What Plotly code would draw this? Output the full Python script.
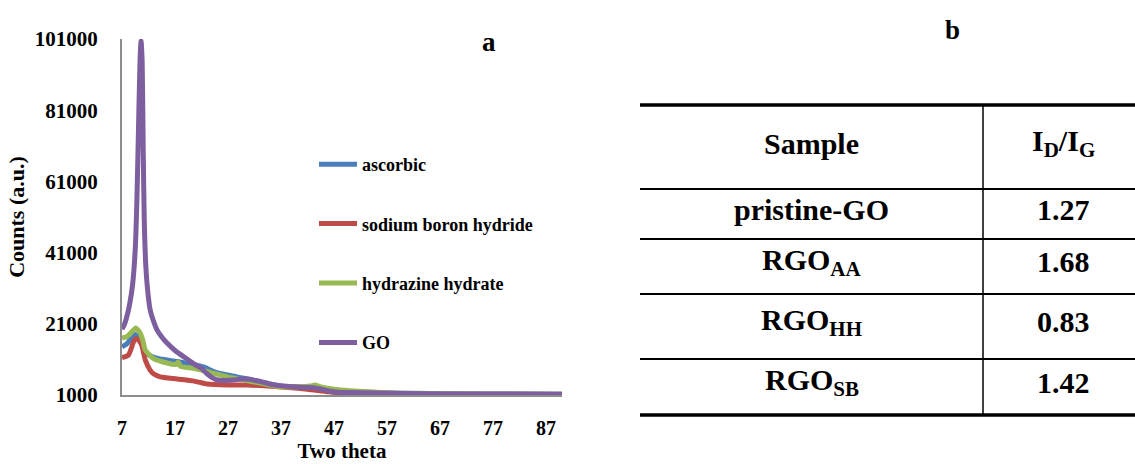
import plotly.graph_objects as go

W, H = 1135, 464

# ---------------- data ----------------
go_x = [7, 7.5, 8, 8.5, 9, 9.5, 9.8, 10.1, 10.4, 10.6, 10.8, 11.0, 11.2, 11.5, 11.8, 12.3, 13, 13.6,
        14.5, 15.5, 17, 18.7, 20, 21, 22, 23, 24, 25, 26.5, 28, 29, 30, 31, 32, 33.3, 34.5, 35.8,
        37.5, 39.6, 42, 43.4, 45, 46.6, 48, 50, 55, 60, 70, 80, 90]
go_y = [19500, 21000, 23500, 27000, 32000, 42000, 55000, 75000, 95000, 100500, 95000, 70000, 50000,
        37000, 31000, 25000, 21500, 19300, 17300, 15600, 13500, 11700, 10300, 9300, 8500, 7000, 5900,
        5200, 5100, 5200, 5400, 5500, 5400, 5100, 4700, 4200, 3800, 3500, 3300, 3100, 3000, 2500,
        2000, 1800, 1700, 1550, 1400, 1300, 1250, 1200]

asc_x = [7, 8, 9, 9.5, 10, 10.6, 11.2, 11.7, 12.5, 14.2, 17.4, 20, 22.5, 24.4, 26.9, 30, 33.3, 37,
         40.9, 45, 50, 55, 60, 70, 80, 90]
asc_y = [14500, 15500, 17500, 18000, 17600, 16500, 14000, 12800, 11900, 11100, 10400, 9700, 8800,
         7500, 6600, 5700, 4700, 3500, 3100, 2500, 2000, 1700, 1500, 1350, 1250, 1200]

sb_x = [7, 8.2, 9.2, 9.6, 10.1, 10.7, 11.4, 12.3, 13, 14.2, 17.4, 20.6, 23.1, 26.9, 30.7, 34.5, 38.3,
        42, 46, 50, 55, 60, 70, 80, 90]
sb_y = [11500, 12200, 16000, 16800, 16500, 15000, 10800, 8000, 6900, 6100, 5500, 4900, 4100, 3800,
        3800, 3500, 3100, 2600, 1900, 1400, 1200, 1100, 1050, 1000, 1000]

hh_x = [7, 8, 9.2, 9.6, 10.4, 10.9, 11.4, 12.9, 15.5, 17.2, 17.6, 18, 20.5, 23.8, 26.9, 30, 33.3, 37,
        40, 42.5, 43.4, 44.5, 47, 50, 55, 60, 70, 80, 90]
hh_y = [17000, 17500, 19300, 19800, 18500, 16500, 13600, 11300, 10000, 9600, 10300, 9100, 8500, 7300,
        6100, 5200, 4300, 3300, 3300, 3500, 3800, 3300, 2600, 2200, 1800, 1500, 1350, 1250, 1200]

series_names = ["ascorbic", "sodium boron hydride", "hydrazine hydrate", "GO"]
series_x = [asc_x, sb_x, hh_x, go_x]
series_y = [asc_y, sb_y, hh_y, go_y]
series_colors = ["#4a7ebb", "#be4b48", "#98b954", "#7d5fa0"]

x_ticks = [7, 17, 27, 37, 47, 57, 67, 77, 87]
y_ticks = [1000, 21000, 41000, 61000, 81000, 101000]

# table b
tbl_header = ["Sample", "I<sub>D</sub>/I<sub>G</sub>"]
tbl_samples = ["pristine-GO", "RGO<sub>AA</sub>", "RGO<sub>HH</sub>", "RGO<sub>SB</sub>"]
tbl_ratios = ["1.27", "1.68", "0.83", "1.42"]

# ---------------- layout helpers (pixel -> paper) ----------------
def px(x):
    return x / W


def py(y):
    return 1 - y / H


FONT = "Liberation Serif, Times New Roman, serif"


def f(size):
    return dict(size=size, family=FONT, color="black", weight="bold")


fig = go.Figure()
for i, (name, xs, ys, c) in enumerate(zip(series_names, series_x, series_y, series_colors)):
    fig.add_trace(go.Scatter(x=xs, y=ys, mode="lines", name=name, legendgroup=f"g{i}",
                             line=dict(color=c, width=5, shape="spline", smoothing=0.6)))

fig.update_layout(
    width=W, height=H, autosize=False,
    margin=dict(l=0, r=0, t=0, b=0, autoexpand=False),
    paper_bgcolor="white", plot_bgcolor="white",
    font=f(20),
    xaxis=dict(domain=[px(122), px(562)], range=[7, 90], tickvals=x_ticks,
               ticktext=[str(v) for v in x_ticks], showgrid=False, zeroline=False,
               showline=True, linecolor="#8c8c8c", linewidth=2, ticks="", automargin=False,
               ticklabelstandoff=14, tickfont=f(20),
               title=dict(text="Two theta", font=f(21), standoff=5)),
    yaxis=dict(domain=[py(395), py(39)], range=[1000, 101000], tickvals=y_ticks,
               ticktext=[str(v) for v in y_ticks], showgrid=False, zeroline=False,
               showline=True, linecolor="#8c8c8c", linewidth=2, ticks="", automargin=False,
               ticklabelstandoff=18, tickfont=f(21),
               title=dict(text="Counts (a.u.)", font=f(22), standoff=4)),
    showlegend=True,
    legend=dict(x=px(314), y=py(146), xanchor="left", yanchor="top",
                bgcolor="rgba(0,0,0,0)", borderwidth=0, tracegroupgap=33,
                font=f(18), itemwidth=38),
)

# panel letters
fig.add_annotation(x=px(489), y=py(42), xref="paper", yref="paper", text="a", showarrow=False,
                   xanchor="center", yanchor="middle", font=f(27))
fig.add_annotation(x=px(952), y=py(30), xref="paper", yref="paper", text="b", showarrow=False,
                   xanchor="center", yanchor="middle", font=f(27))

# ---------------- table ----------------
t_left, t_right, t_mid = 640, 1135, 983
row_lines = [105, 189, 239, 294, 359, 415]
for k, yl in enumerate(row_lines):
    thick = k in (0, len(row_lines) - 1)
    fig.add_shape(type="line", xref="paper", yref="paper", x0=px(t_left), x1=px(t_right),
                  y0=py(yl), y1=py(yl), line=dict(color="black", width=3.5 if thick else 2))
fig.add_shape(type="line", xref="paper", yref="paper", x0=px(t_mid), x1=px(t_mid),
              y0=py(row_lines[0]), y1=py(row_lines[-1]), line=dict(color="black", width=1.5))

col_c = [(t_left + t_mid) / 2, 1063]
rows = [tbl_header] + [[s, r] for s, r in zip(tbl_samples, tbl_ratios)]
for k, row in enumerate(rows):
    yc = (row_lines[k] + row_lines[k + 1]) / 2 - (4 if k == 0 else 5)
    for j, txt in enumerate(row):
        fig.add_annotation(x=px(col_c[j]), y=py(yc), xref="paper", yref="paper", text=txt,
                           showarrow=False, xanchor="center", yanchor="middle", font=f(30))

fig.write_html("out.html", config={"displayModeBar": False},
               post_script="document.body.style.margin='0px';document.body.style.overflow='hidden';")
